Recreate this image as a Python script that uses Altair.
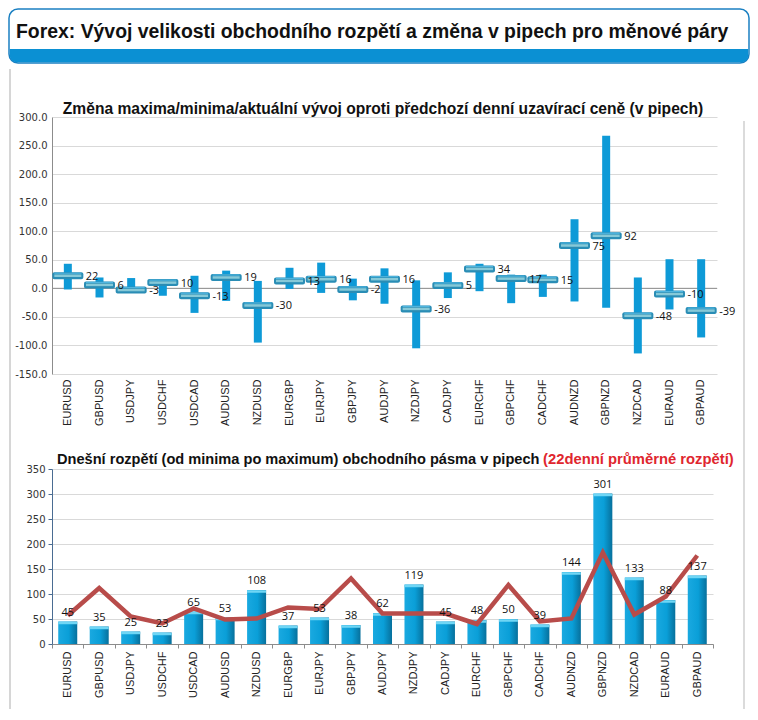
import altair as alt
import pandas as pd

pairs = ["EURUSD", "GBPUSD", "USDJPY", "USDCHF", "USDCAD", "AUDUSD", "NZDUSD",
         "EURGBP", "EURJPY", "GBPJPY", "AUDJPY", "NZDJPY", "CADJPY", "EURCHF",
         "GBPCHF", "CADCHF", "AUDNZD", "GBPNZD", "NZDCAD", "EURAUD", "GBPAUD"]
change_now = [22, 6, -3, 10, -13, 19, -30, 13, 16, -2, 16, -36, 5, 34, 17, 15, 75, 92, -48, -10, -39]
change_high = [43, 19, 18, 10, 22, 31, 13, 36, 45, 17, 35, 14, 28, 43, 24, 24, 121, 267, 19, 51, 51]
change_low = [-2, -16, -7, -13, -43, -22, -95, -1, -8, -21, -27, -105, -17, -5, -26, -15, -23, -34, -114, -37, -86]
range_today = [45, 35, 25, 23, 65, 53, 108, 37, 53, 38, 62, 119, 45, 48, 50, 39, 144, 301, 133, 88, 137]
range_avg22 = [57, 112, 55, 41, 71, 49, 51, 73, 70, 131, 61, 61, 61, 40, 118, 45, 51, 183, 59, 95, 177]

top_ticks = [-150, -100, -50, 0, 50, 100, 150, 200, 250, 300]
bottom_ticks = [0, 50, 100, 150, 200, 250, 300, 350]

main_title = "Forex: Vývoj velikosti obchodního rozpětí a změna v pipech pro měnové páry"
top_title = "Změna maxima/minima/aktuální vývoj oproti předchozí denní uzavírací ceně (v pipech)"
bottom_title_a = "Dnešní rozpětí (od minima po maximum) obchodního pásma v pipech"
bottom_title_b = "(22denní průměrné rozpětí)"

df = pd.DataFrame({
    "pair": pairs,
    "now": change_now,
    "high": change_high,
    "low": change_low,
    "now_lbl": [str(v) for v in change_now],
    "today": range_today,
    "avg": range_avg22,
})
one = pd.DataFrame({"k": [0]})

FONT = "Liberation Sans"
LBLFONT = "Open Sans"

# ---------------- top chart ----------------
xs_top = alt.X("pair:N", sort=pairs,
               scale=alt.Scale(paddingInner=0, paddingOuter=0),
               axis=alt.Axis(title=None, labelAngle=-90, labelFontSize=11, labelFont=FONT,
                             labelColor="#222", ticks=False, domain=False, labelPadding=5))
ys_top = alt.Scale(domain=[-150, 300], nice=False, zero=False)
yaxis_top = alt.Axis(title=None, values=top_ticks, tickCount=30, grid=True, gridColor="#d9d9d9",
                     domainColor="#8c8c8c", ticks=False, labelPadding=5, labelOverlap=False,
                     labelFont="DejaVu Sans", labelFontSize=10, labelColor="#333",
                     labelExpr="replace(format(datum.value, '.1f'), '\u2212', '-')",
                     minExtent=43, maxExtent=43)

base_top = alt.Chart(df)

header_box = alt.Chart(one).mark_rect(fill="white", stroke="#1b80c2", strokeWidth=1.5,
                                      cornerRadius=9).encode(
    x=alt.value(-43), x2=alt.value(697), y=alt.value(-108), y2=alt.value(-54))
header_stripe = alt.Chart(one).mark_rect(fill="#0b90d3", cornerRadiusBottomLeft=8,
                                         cornerRadiusBottomRight=8).encode(
    x=alt.value(-42.2), x2=alt.value(696.2), y=alt.value(-68), y2=alt.value(-54.8))
header_text = alt.Chart(one).mark_text(align="left", baseline="alphabetic", font=FONT,
                                       fontSize=19.4, fontWeight="bold", color="#111").encode(
    x=alt.value(-36), y=alt.value(-79), text=alt.value(main_title))
panel_left = alt.Chart(one).mark_rule(color="#c8c8c8", strokeWidth=1.5).encode(
    x=alt.value(-42), y=alt.value(-48), y2=alt.value(592))
panel_right = alt.Chart(one).mark_rule(color="#cfcfcf", strokeWidth=1.5).encode(
    x=alt.value(692), y=alt.value(4), y2=alt.value(592))
top_title_text = alt.Chart(one).mark_text(align="center", baseline="alphabetic", font=FONT,
                                          fontSize=15.6, fontWeight="bold", color="#111").encode(
    x=alt.value(331), y=alt.value(-3), text=alt.value(top_title))

zero_rule = alt.Chart(one).mark_rule(color="#8c8c8c", strokeWidth=1).encode(
    y=alt.datum(0, scale=ys_top))
range_bar = base_top.mark_bar(width=8, color="#0e9ad7").encode(
    x=xs_top,
    y=alt.Y("low:Q", scale=ys_top, axis=yaxis_top),
    y2="high:Q")
tick_outer = base_top.mark_tick(thickness=7, size=31, color="#2a8db5", opacity=1,
                                cornerRadius=2).encode(x=xs_top, y=alt.Y("now:Q", scale=ys_top))
tick_inner = base_top.mark_tick(thickness=2.5, size=27, color="#86c9d8", opacity=1).encode(
    x=xs_top, y=alt.Y("now:Q", scale=ys_top))
tick_top = base_top.mark_tick(thickness=1.2, size=27, color="#4fb6e0", opacity=1, yOffset=-2.5).encode(
    x=xs_top, y=alt.Y("now:Q", scale=ys_top))
now_text = base_top.mark_text(align="left", baseline="middle", dx=18, dy=1, font=LBLFONT,
                              fontSize=11, color="#111").encode(
    x=xs_top, y=alt.Y("now:Q", scale=ys_top), text="now_lbl:N")

top = alt.layer(zero_rule, range_bar, tick_outer, tick_inner, tick_top, now_text,
                header_box, header_stripe, header_text, panel_left, panel_right,
                top_title_text).properties(width=665, height=257)

# ---------------- bottom chart ----------------
xs_bot = alt.X("pair:N", sort=pairs,
               scale=alt.Scale(paddingInner=0, paddingOuter=0),
               axis=alt.Axis(title=None, labelAngle=-90, labelFontSize=11, labelFont=FONT,
                             labelColor="#222", ticks=True, tickBand="extent", tickSize=4,
                             tickColor="#8c8c8c", domainColor="#8c8c8c", labelPadding=3))
ys_bot = alt.Scale(domain=[0, 350], nice=False)
yaxis_bot = alt.Axis(title=None, values=bottom_ticks, tickCount=30, grid=True, gridColor="#d9d9d9",
                     domainColor="#4a6c92", tickColor="#4a6c92", tickSize=4, labelPadding=3,
                     labelOverlap=False,
                     labelFont="DejaVu Sans", labelFontSize=10, labelColor="#333",
                     minExtent=43, maxExtent=43)

base_bot = alt.Chart(df)
bar_fill = alt.Gradient(gradient="linear", x1=0, y1=0, x2=1, y2=0,
                        stops=[alt.GradientStop(offset=0, color="#1aa9e0"),
                               alt.GradientStop(offset=0.55, color="#0a9fd8"),
                               alt.GradientStop(offset=1, color="#07709c")])
bars = base_bot.mark_bar(width=19, color=bar_fill).encode(
    x=xs_bot, y=alt.Y("today:Q", scale=ys_bot, axis=yaxis_bot))
bar_cap = base_bot.mark_tick(thickness=2.5, size=19, color="#6fd6f5", opacity=1, yOffset=1.5).encode(
    x=xs_bot, y=alt.Y("today:Q", scale=ys_bot))
avg_line = base_bot.mark_line(color="#b84c4a", strokeWidth=4.5, strokeJoin="miter").encode(
    x=xs_bot, y=alt.Y("avg:Q", scale=ys_bot))
bar_text = base_bot.mark_text(baseline="bottom", dy=-4, font=LBLFONT, fontSize=11,
                              color="#111").encode(
    x=xs_bot, y=alt.Y("today:Q", scale=ys_bot), text="today:Q")
title_a = alt.Chart(one).mark_text(align="left", baseline="alphabetic", font=FONT, fontSize=14.6,
                                   fontWeight="bold", color="#111").encode(
    x=alt.value(5), y=alt.value(-5), text=alt.value(bottom_title_a))
title_b = alt.Chart(one).mark_text(align="left", baseline="alphabetic", font=FONT, fontSize=14.8,
                                   fontWeight="bold", color="#e0262e").encode(
    x=alt.value(491), y=alt.value(-5), text=alt.value(bottom_title_b))

bottom = alt.layer(bars, bar_cap, avg_line, bar_text, title_a, title_b).properties(
    width=661, height=175)

chart = alt.vconcat(top, bottom, spacing=95, bounds="flush").properties(
    padding=0, background="white").configure_view(stroke=None)

chart.save("out.html", embed_options={"renderer": "svg", "actions": False})
